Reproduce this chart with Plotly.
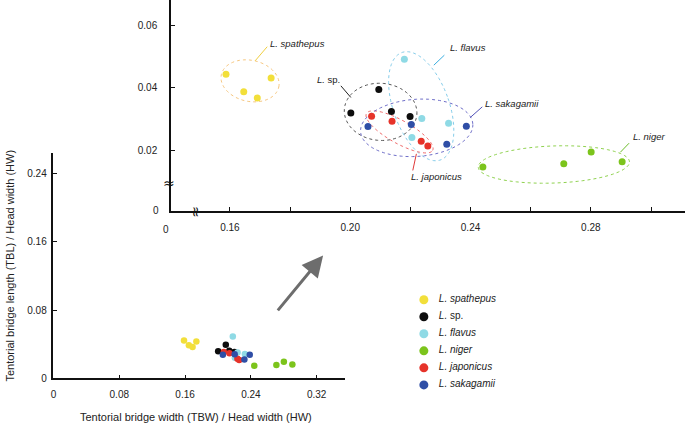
import math
import plotly.graph_objects as go

# ---------------- data ----------------
species = ["L. spathepus", "L. sp.", "L. flavus", "L. niger", "L. japonicus", "L. sakagamii"]
legend_labels = ["&nbsp;&nbsp;&nbsp;<i>L. spathepus</i>", "&nbsp;&nbsp;&nbsp;<i>L.</i> sp.",
                 "&nbsp;&nbsp;&nbsp;<i>L. flavus</i>", "&nbsp;&nbsp;&nbsp;<i>L. niger</i>",
                 "&nbsp;&nbsp;&nbsp;<i>L. japonicus</i>", "&nbsp;&nbsp;&nbsp;<i>L. sakagamii</i>"]
point_colors = ["#f2df3a", "#0d0d0d", "#8fdae5", "#7cc41c", "#e6332a", "#2f4ea6"]

tbw_spathepus = [0.1587, 0.1646, 0.1691, 0.1737]
tbl_spathepus = [0.0443, 0.0387, 0.0367, 0.0431]
tbw_sp = [0.2095, 0.2002, 0.2137, 0.2199]
tbl_sp = [0.0394, 0.0319, 0.0324, 0.0308]
tbw_flavus = [0.2180, 0.2238, 0.2327, 0.2205]
tbl_flavus = [0.0491, 0.0302, 0.0287, 0.0241]
tbw_niger = [0.2441, 0.2710, 0.2801, 0.2904]
tbl_niger = [0.0147, 0.0157, 0.0195, 0.0164]
tbw_japonicus = [0.2071, 0.2139, 0.2236, 0.2258]
tbl_japonicus = [0.0309, 0.0293, 0.0229, 0.0214]
tbw_sakagamii = [0.2059, 0.2203, 0.2321, 0.2386]
tbl_sakagamii = [0.0276, 0.0283, 0.0220, 0.0277]

tbw = [tbw_spathepus, tbw_sp, tbw_flavus, tbw_niger, tbw_japonicus, tbw_sakagamii]
tbl = [tbl_spathepus, tbl_sp, tbl_flavus, tbl_niger, tbl_japonicus, tbl_sakagamii]

main_x_ticks = [0, 0.08, 0.16, 0.24, 0.32]
main_y_ticks = [0, 0.08, 0.16, 0.24]
inset_x_ticks = [0.16, 0.18, 0.20, 0.22, 0.24, 0.26, 0.28, 0.30]
inset_x_labels = ["0.16", "", "0.20", "", "0.24", "", "0.28", ""]
inset_y_ticks = [0.02, 0.04, 0.06]

# ---------------- layout constants ----------------
W, H = 685, 423          # reference frame used for placement
FIG_H = 429              # figure height (the capture squeezes it to the frame)
FONT = "Liberation Sans"

def px(x):
    return x / W

def py(y):
    return 1 - y / H

main_xdom = [px(50.7), px(344)]
main_ydom = [py(377.5), py(153)]
main_xrange = [0, 0.355]
main_yrange = [0, 0.2635]

ins_xdom = [px(169), 1.0]
ins_ydom = [py(211), 1.0]
ins_xrange = [0.1405, 0.3113]
ins_yrange = [0.0005, 0.068]

# legend block (categorical axis, one row per species)
leg_xdom = [px(412.7), px(432.7)]
leg_ydom = [py(392.5), py(290.5)]

SX = (ins_xdom[1] - ins_xdom[0]) * W / (ins_xrange[1] - ins_xrange[0])
SY = (ins_ydom[1] - ins_ydom[0]) * H / (ins_yrange[1] - ins_yrange[0])

# group outlines (inset): center (data), semi-axes (px), rotation (deg), colour
outlines = [
    (0.1667, 0.0422, 29.5, 20.5, -12, "#f5c57e"),
    (0.2101, 0.0323, 36.5, 28.5, -4, "#555555"),
    (0.2236, 0.0341, 28.0, 57.0, 20, "#86cdea"),
    (0.2677, 0.0155, 76.0, 18.5, 2, "#8fd14f"),
    (0.2164, 0.0259, 38.0, 11.5, -29, "#ef6a6a"),
    (0.2221, 0.0272, 56.5, 28.5, 4, "#6f6fc9"),
]

# label texts & leader lines (inset data coords)
labels = [
    ("<i>L. spathepus</i>", 0.1728, 0.0541, "left", (0.1684, 0.0486, 0.1724, 0.0531), "#f0cf40"),
    ("<i>L.</i> sp.", 0.1974, 0.0427, "right", (0.1969, 0.0406, 0.2002, 0.0369), "#222222"),
    ("<i>L. flavus</i>", 0.2324, 0.0529, "left", (0.2313, 0.0504, 0.2278, 0.0472), "#3aaee0"),
    ("<i>L. niger</i>", 0.2934, 0.0243, "left", (0.2927, 0.0223, 0.2898, 0.0194), "#6cbd2a"),
    ("<i>L. japonicus</i>", 0.2194, 0.0117, "left", (0.2220, 0.0189, 0.2208, 0.0136), "#e03a3a"),
    ("<i>L. sakagamii</i>", 0.2443, 0.0349, "left", (0.2439, 0.0339, 0.2399, 0.0305), "#5353b8"),
]

fig = go.Figure()

# main plot points
for i in range(len(species)):
    fig.add_trace(go.Scatter(
        x=tbw[i], y=tbl[i], mode="markers", xaxis="x", yaxis="y",
        marker=dict(size=6.5, color=point_colors[i], line=dict(width=0)),
        showlegend=False, name=species[i], hoverinfo="skip"))

# inset points
for i in range(len(species)):
    fig.add_trace(go.Scatter(
        x=tbw[i], y=tbl[i], mode="markers", xaxis="x2", yaxis="y2",
        marker=dict(size=7, color=point_colors[i], line=dict(width=0)),
        showlegend=False, name=species[i], hoverinfo="skip"))

# legend block
fig.add_trace(go.Scatter(
    x=[0] * len(species), y=species, mode="markers+text", xaxis="x3", yaxis="y3",
    marker=dict(size=9, color=point_colors, line=dict(width=0)),
    text=legend_labels, textposition="middle right",
    textfont=dict(family=FONT, size=10, color="#222"),
    showlegend=False, hoverinfo="skip", cliponaxis=False))

shapes = []
for cx, cy, rx, ry, ang, col in outlines:
    a = math.radians(ang)
    pts = []
    n = 90
    for k in range(n + 1):
        t = 2 * math.pi * k / n
        u, v = rx * math.cos(t), ry * math.sin(t)
        X = u * math.cos(a) - v * math.sin(a)
        Y = u * math.sin(a) + v * math.cos(a)
        pts.append((cx + X / SX, cy + Y / SY))
    path = "M " + " L ".join(f"{x:.6f},{y:.6f}" for x, y in pts) + " Z"
    shapes.append(dict(type="path", path=path, xref="x2", yref="y2",
                       line=dict(color=col, width=1, dash="dot"), layer="below"))

annotations = []
for text, tx, ty, anchor, (x0, y0, x1, y1), col in labels:
    shapes.append(dict(type="line", x0=x0, y0=y0, x1=x1, y1=y1, xref="x2", yref="y2",
                       line=dict(color=col, width=1)))
    annotations.append(dict(text=text, x=tx, y=ty, xref="x2", yref="y2",
                            xanchor=anchor, yanchor="middle", showarrow=False,
                            font=dict(family=FONT, size=9.5, color="#222222")))

def paper_text(text, x, y, size=10, family=FONT, angle=0, color="#222"):
    return dict(text=text, x=px(x), y=py(y), xref="paper", yref="paper",
                xanchor="center", yanchor="middle", showarrow=False, textangle=angle,
                font=dict(family=family, size=size, color=color))

# inset '0' labels and axis break marks
annotations.append(paper_text("0", 163.5, 229))
annotations.append(paper_text("0", 153.5, 210.5))
annotations.append(paper_text("≈", 167, 182.5, size=14, family="DejaVu Sans", color="#111"))
annotations.append(paper_text("≈", 193, 211, size=14, family="DejaVu Sans", angle=-90, color="#111"))

# arrow
annotations.append(dict(text="", x=px(321.5), y=py(255), xref="paper", yref="paper",
                        ax=-46.5, ay=56.3, showarrow=True, arrowhead=2, arrowsize=1.4,
                        arrowwidth=3, arrowcolor="#6d6d6d", standoff=0))

# axis titles
annotations.append(paper_text("Tentorial bridge width (TBW) / Head width (HW)", 194, 416.5, size=11))
annotations.append(paper_text("Tentorial bridge length (TBL) / Head width (HW)", 7, 265, size=11, angle=-90))

axis_common = dict(showgrid=False, zeroline=False, showline=True, linecolor="#111",
                   ticks="inside", tickcolor="#111", tickwidth=1.3, ticklen=4,
                   tickfont=dict(family=FONT, size=10, color="#222"))

fig.update_layout(
    width=W, height=FIG_H,
    margin=dict(l=0, r=0, t=0, b=0),
    paper_bgcolor="white", plot_bgcolor="rgba(0,0,0,0)",
    showlegend=False,
    xaxis=dict(domain=main_xdom, range=main_xrange, tickvals=main_x_ticks,
               ticktext=["0", "0.08", "0.16", "0.24", "0.32"], linewidth=1.5,
               ticklabelstandoff=6, anchor="y", **axis_common),
    yaxis=dict(domain=main_ydom, range=main_yrange, tickvals=main_y_ticks,
               ticktext=["0", "0.08", "0.16", "0.24"], linewidth=1.5,
               ticklabelstandoff=3, anchor="x", **axis_common),
    xaxis2=dict(domain=ins_xdom, range=ins_xrange, tickvals=inset_x_ticks,
                ticktext=inset_x_labels, linewidth=2, anchor="y2",
                ticklabelstandoff=6, **axis_common),
    yaxis2=dict(domain=ins_ydom, range=ins_yrange, tickvals=inset_y_ticks,
                ticktext=["0.02", "0.04", "0.06"], linewidth=2, anchor="x2",
                ticklabelstandoff=10, **axis_common),
    xaxis3=dict(domain=leg_xdom, range=[-0.5, 0.5], visible=False, anchor="y3"),
    yaxis3=dict(domain=leg_ydom, range=[len(species) - 0.5, -0.5], visible=False,
                anchor="x3", type="category"),
    shapes=shapes,
    annotations=annotations,
)

css_js = ("var s=document.createElement('style');"
          "s.innerHTML='html,body{margin:0;padding:0;overflow:hidden;}';"
          "document.head.appendChild(s);")
fig.write_html("out.html", config={"displayModeBar": False}, post_script=css_js)
